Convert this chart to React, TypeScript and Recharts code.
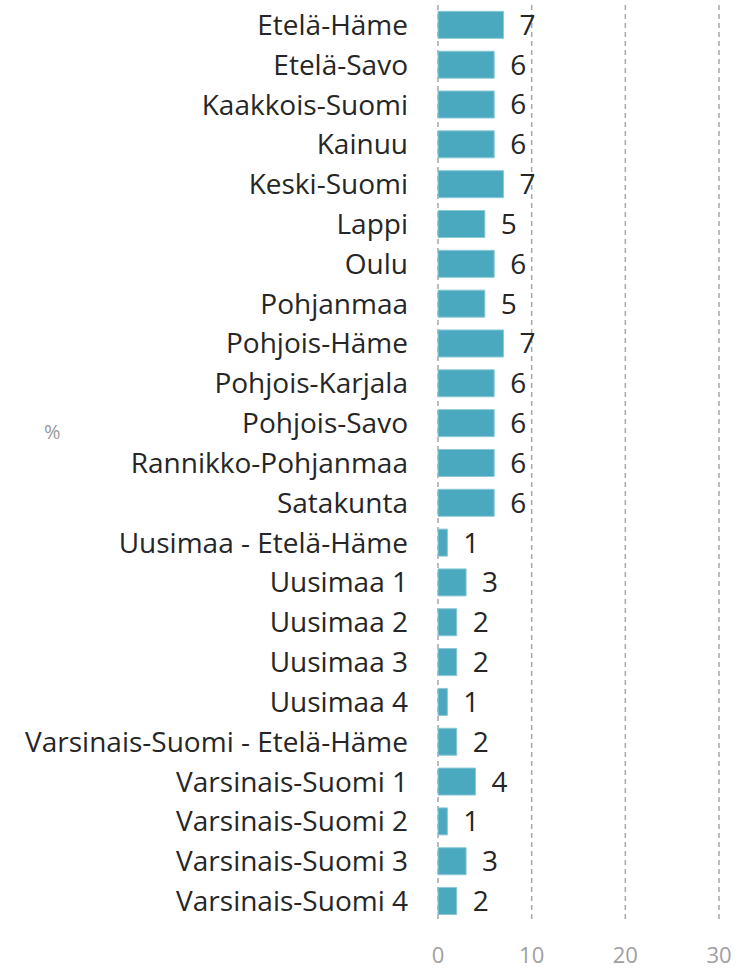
import { BarChart, Bar, XAxis, YAxis, CartesianGrid, LabelList } from 'recharts';

const regions = [
  'Etelä-Häme',
  'Etelä-Savo',
  'Kaakkois-Suomi',
  'Kainuu',
  'Keski-Suomi',
  'Lappi',
  'Oulu',
  'Pohjanmaa',
  'Pohjois-Häme',
  'Pohjois-Karjala',
  'Pohjois-Savo',
  'Rannikko-Pohjanmaa',
  'Satakunta',
  'Uusimaa - Etelä-Häme',
  'Uusimaa 1',
  'Uusimaa 2',
  'Uusimaa 3',
  'Uusimaa 4',
  'Varsinais-Suomi - Etelä-Häme',
  'Varsinais-Suomi 1',
  'Varsinais-Suomi 2',
  'Varsinais-Suomi 3',
  'Varsinais-Suomi 4',
];

const shares = [7, 6, 6, 6, 7, 5, 6, 5, 7, 6, 6, 6, 6, 1, 3, 2, 2, 1, 2, 4, 1, 3, 2];

const xTicks = [0, 10, 20, 30];

const data = regions.map((name, i) => ({ name, value: shares[i] }));

const FONT = '"Open Sans", Lato, sans-serif';

export default function App() {
  return (
    <div style={{ position: 'absolute', left: 0, top: 0, width: 743, height: 973, background: '#fff' }}>
      <div
        style={{
          position: 'absolute',
          left: 44,
          top: 418,
          fontFamily: FONT,
          fontSize: 20,
          color: '#9a9a9a',
        }}
      >
        %
      </div>
      <BarChart
        width={743}
        height={973}
        data={data}
        layout="vertical"
        margin={{ top: 5, right: 24, left: 0, bottom: 0 }}
        barCategoryGap="16%"
      >
        <CartesianGrid
          horizontal={false}
          strokeDasharray="5 4"
          stroke="#a6a6a6"
          strokeWidth={1.5}
        />
        <XAxis
          type="number"
          domain={[0, 30]}
          ticks={xTicks}
          height={52}
          axisLine={false}
          tickLine={false}
          tickMargin={20}
          tick={{ fill: '#a0a0a0', fontSize: 22, fontFamily: FONT }}
        />
        <YAxis
          type="category"
          dataKey="name"
          width={438}
          axisLine={false}
          tickLine={false}
          tickMargin={24}
          interval={0}
          tick={{ fill: '#262626', fontSize: 28, fontFamily: FONT }}
        />
        <Bar dataKey="value" fill="#4aa8bf" stroke="#8cc8d6" strokeWidth={1} isAnimationActive={false}>
          <LabelList
            dataKey="value"
            position="right"
            offset={16}
            style={{ fill: '#262626', fontSize: 28, fontFamily: FONT }}
          />
        </Bar>
      </BarChart>
    </div>
  );
}
